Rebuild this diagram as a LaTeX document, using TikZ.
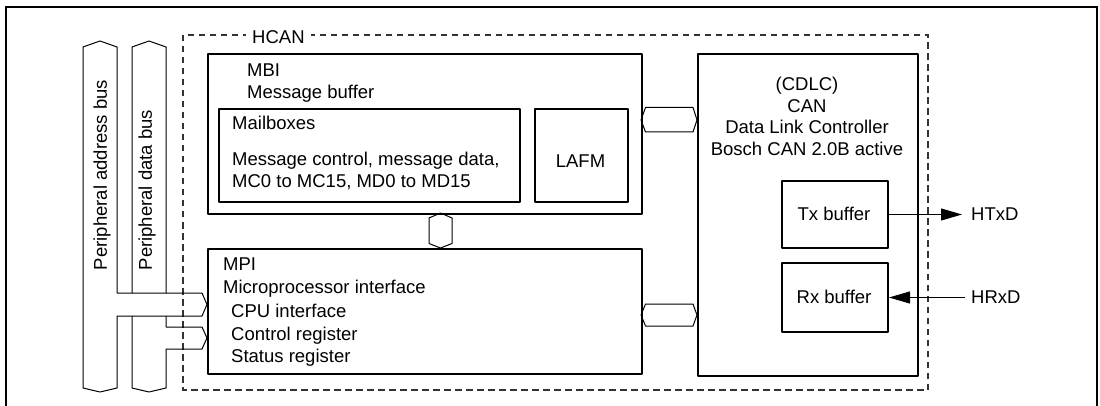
\documentclass[tikz,border=0pt]{standalone}
\usepackage{fontspec}
\setmainfont{Liberation Sans}
\usetikzlibrary{arrows.meta}
\begin{document}
\begin{tikzpicture}[x=1pt,y=-1pt,
  txt/.style={inner sep=0pt, anchor=base west, font=\fontsize{18.5}{22}\selectfont},
  ctxt/.style={inner sep=0pt, anchor=base, font=\fontsize{18.5}{22}\selectfont},
  box/.style={draw, line width=2pt, line join=round, inner sep=0pt, anchor=north west},
  thinline/.style={line width=1pt, line join=round},
  hcanbox/.style={draw=black!80, line width=1.1pt, dash pattern=on 6.5pt off 4.5pt},
  sig/.style={line width=1pt, -{Triangle[length=21pt,width=12pt]}}
]
\useasboundingbox (0,0) rectangle (1100,406);
% outer frame
\draw[line width=2.2pt] (6,406) -- (6,7) -- (1097,7) -- (1097,406);
% HCAN dashed box
\draw[hcanbox] (183,35) rectangle (928,390);
\node[txt, fill=white, inner xsep=6pt, inner ysep=1pt] (hcanlbl) at (246,44) {HCAN};

% blocks
\node[box, minimum width=434pt, minimum height=160pt] (mbi) at (207,53) {};
\node[box, minimum width=301pt, minimum height=93pt] (mail) at (218,108) {};
\node[box, minimum width=93pt, minimum height=93pt] (lafm) at (534,108) {};
\node[box, minimum width=434pt, minimum height=125pt] (mpi) at (207,248) {};
\node[box, minimum width=220pt, minimum height=322pt] (cdlc) at (697,53) {};
\node[box, minimum width=106pt, minimum height=67pt] (tx) at (781,180) {};
\node[box, minimum width=106pt, minimum height=69pt] (rx) at (781,262) {};

% texts
\node[txt] (tmbi) at (247,77) {MBI};
\node[txt] (tmb) at (247,98.5) {Message buffer};
\node[txt] (tmail) at (232,130) {Mailboxes};
\node[txt] (tmc1) at (232,166) {Message control, message data,};
\node[txt] (tmc2) at (232,188) {MC0 to MC15, MD0 to MD15};
\node[ctxt] (tlafm) at (580.5,168) {LAFM};
\node[txt] (tmpi) at (223,270) {MPI};
\node[txt] (tmpi2) at (223,293) {Microprocessor interface};
\node[txt] (tcpu) at (231,317) {CPU interface};
\node[txt] (tctl) at (231,340) {Control register};
\node[txt] (tsts) at (231,362) {Status register};
\node[ctxt] (tcdlc) at (807,91) {(CDLC)};
\node[ctxt] (tcan) at (807,112.5) {CAN};
\node[ctxt] (tdlc) at (807,134) {Data Link Controller};
\node[ctxt] (tbosch) at (807,155.5) {Bosch CAN 2.0B active};
\node[ctxt] (ttx) at (834,221) {Tx buffer};
\node[ctxt] (trx) at (834,303) {Rx buffer};
\node[txt] (htxd) at (971,221) {HTxD};
\node[txt] (hrxd) at (971,303) {HRxD};

% external signals
\draw[sig] (tx.east) -- ([xshift=-9pt]tx.east -| htxd.west);
\draw[sig] ([xshift=-6pt]rx.east -| hrxd.west) -- (rx.east);

% internal bus connectors (hexagons)
\draw[thinline] (641,120) -- (645.5,107.5) -- (693,107.5) -- (697,120) -- (693,132) -- (645.5,132) -- cycle;
\draw[thinline] (641,315) -- (645.5,304) -- (693,304) -- (697,315) -- (693,326) -- (645.5,326) -- cycle;
\draw[thinline] (440.5,213) -- (452,218) -- (452,243.5) -- (440.5,248) -- (429,243.5) -- (429,218) -- cycle;

% peripheral address bus
\draw[thinline] (100,392) -- (83,388) -- (83,47) -- (100,41) -- (117,47) -- (117,293)
  -- (202,293) -- (207,304.5) -- (202,316) -- (117,316) -- (117,388) -- cycle;
% peripheral data bus
\draw[thinline] (166,293) -- (166,47) -- (149,41) -- (132,47) -- (132,293);
\draw[thinline] (132,316) -- (132,388) -- (149,392) -- (166,388) -- (166,349)
  -- (202,349) -- (207,338) -- (202,327) -- (166,327) -- (166,316);
\node[inner sep=0pt, rotate=90, font=\fontsize{18.5}{22}\selectfont] (abus) at (102,175) {Peripheral address bus};
\node[inner sep=0pt, rotate=90, font=\fontsize{18.5}{22}\selectfont] (dbus) at (147,190) {Peripheral data bus};
\end{tikzpicture}
\end{document}
